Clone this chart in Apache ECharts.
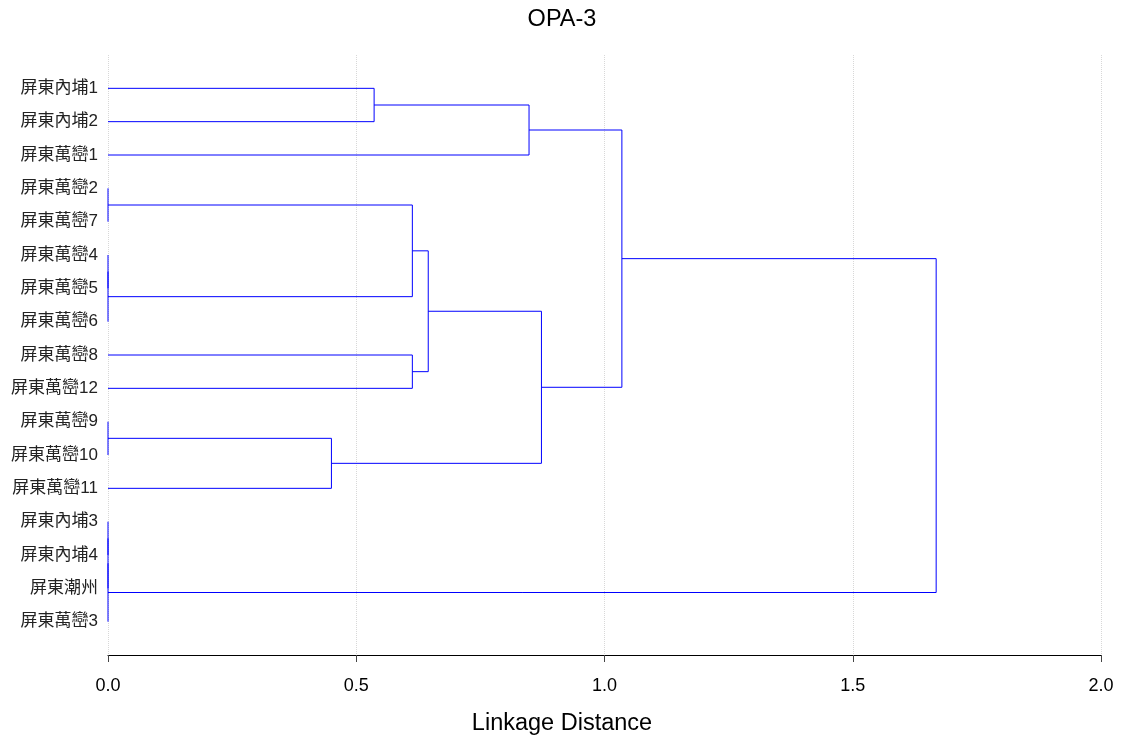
<!DOCTYPE html>
<html>
<head>
<meta charset="utf-8">
<title>OPA-3</title>
<script src="https://cdn.jsdelivr.net/npm/echarts@6/dist/echarts.min.js"></script>
<style>
  html, body { margin: 0; padding: 0; background: #fff; }
  #dendro { width: 1124px; height: 738px; }
</style>
</head>
<body>
<div id="dendro"></div>
<script>
// leaves, top to bottom
var leaves = ['屏東內埔1', '屏東內埔2', '屏東萬巒1', '屏東萬巒2', '屏東萬巒7', '屏東萬巒4',
    '屏東萬巒5', '屏東萬巒6', '屏東萬巒8', '屏東萬巒12', '屏東萬巒9', '屏東萬巒10',
    '屏東萬巒11', '屏東內埔3', '屏東內埔4', '屏東潮州', '屏東萬巒3'];

// merges: [cluster a, cluster b, linkage distance]; new clusters numbered from 17
var merges = [
    [3, 4, 0], [5, 6, 0], [18, 7, 0], [10, 11, 0], [13, 14, 0], [21, 15, 0], [22, 16, 0],
    [20, 12, 0.450], [0, 1, 0.536], [17, 19, 0.613], [8, 9, 0.613], [26, 27, 0.645],
    [25, 2, 0.848], [28, 24, 0.873], [29, 30, 1.035], [31, 23, 1.668]
];

var xTicks = [0, 0.5, 1.0, 1.5, 2.0];

var dendro = {
    init: function () {
        var that = this
        that.draw()
    },
    buildLinks: function () {
        var nodes = leaves.map(function (n, i) { return {y: i + 1, h: 0}; });
        var links = [];
        merges.forEach(function (m) {
            var a = nodes[m[0]], b = nodes[m[1]];
            links.push({coords: [[a.h, a.y], [m[2], a.y], [m[2], b.y], [b.h, b.y]]});
            nodes.push({y: (a.y + b.y) / 2, h: m[2]});
        });
        return links;
    },
    draw: function () {
        var myChart = echarts.init(document.getElementById('dendro'));
        var font = 'Liberation Sans, Arial, "Noto Sans CJK TC", sans-serif';
        var option = {
            animation: false,
            title: [
                {
                    text: 'OPA-3',
                    left: 'center',
                    top: 3,
                    textStyle: {color: '#000', fontSize: 23.5, fontWeight: 'normal', fontFamily: font}
                },
                {
                    text: 'Linkage Distance',
                    left: 'center',
                    top: 707,
                    textStyle: {color: '#000', fontSize: 23.5, fontWeight: 'normal', fontFamily: font}
                }
            ],
            grid: {left: 108, right: 23, top: 55, bottom: 83, containLabel: false},
            xAxis: {
                type: 'value',
                position: 'bottom',
                min: xTicks[0],
                max: xTicks[xTicks.length - 1],
                interval: 0.5,
                axisLine: {onZero: false, lineStyle: {color: '#000', width: 1}},
                axisTick: {show: true, length: 7, lineStyle: {color: '#444'}},
                axisLabel: {
                    color: '#000', fontSize: 18, fontFamily: font, margin: 22,
                    formatter: function (v) { return v.toFixed(1); }
                },
                splitLine: {show: true, lineStyle: {color: '#d8d8d8', type: 'dotted', width: 1}}
            },
            yAxis: {
                type: 'value',
                inverse: true,
                min: 0,
                max: leaves.length + 1,
                interval: 1,
                axisLine: {show: false},
                axisTick: {show: false},
                splitLine: {show: false},
                axisLabel: {
                    color: '#222', fontSize: 17, fontFamily: font, margin: 10,
                    formatter: function (v) { return leaves[v - 1] || ''; }
                }
            },
            series: [
                {
                    type: 'lines',
                    coordinateSystem: 'cartesian2d',
                    polyline: true,
                    silent: true,
                    lineStyle: {color: '#0000ff', width: 1, opacity: 1},
                    data: this.buildLinks()
                }
            ]
        };
        myChart.setOption(option);
    }
}
dendro.init();
</script>
</body>
</html>
